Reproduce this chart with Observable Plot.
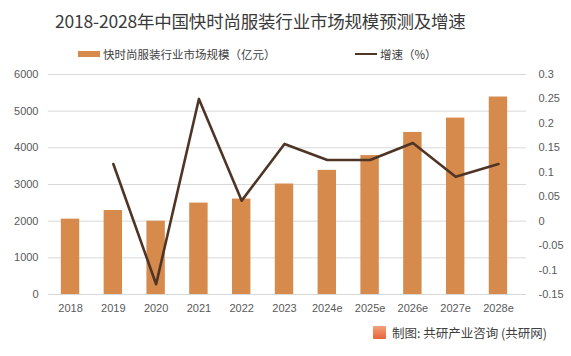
<!DOCTYPE html>
<html><head><meta charset="utf-8">
<script src="https://cdn.jsdelivr.net/npm/d3@7"></script>
<script src="https://cdn.jsdelivr.net/npm/@observablehq/plot@0.6"></script>
<style>
body{margin:0;background:#fff;font-family:"Noto Sans CJK SC","Noto Sans",sans-serif;}
#wrap{position:relative;width:571px;height:356px;overflow:hidden;}
#title{position:absolute;top:8px;left:55px;white-space:nowrap;font-size:17.5px;color:#3a3a3a;letter-spacing:-0.2px;}
.leg{position:absolute;top:46px;font-size:11.5px;color:#404040;display:flex;align-items:center;}
.sw{display:inline-block;width:22px;height:6px;background:#D68A4C;margin-right:3px;}
.ln{display:inline-block;width:22px;height:2.5px;background:#4F3526;margin-right:3px;}
#chart{position:absolute;top:64px;left:0;}
#cap{position:absolute;top:323px;left:373px;font-size:12.5px;color:#404040;display:flex;align-items:center;}
.logo{display:inline-block;width:13px;height:13px;background:linear-gradient(#f3a07a,#e8643a);margin-right:6px;border-radius:1px;}
</style></head>
<body><div id="wrap">
<div id="title">2018-2028年中国快时尚服装行业市场规模预测及增速</div>
<div class="leg" style="left:78px"><span class="sw"></span>快时尚服装行业市场规模（亿元）</div>
<div class="leg" style="left:355px"><span class="ln"></span>增速（%）</div>
<div id="chart"></div>
<div id="cap"><span class="logo"></span>制图: 共研产业咨询 (共研网)</div>
</div>
<script>
const years = ["2018","2019","2020","2021","2022","2023","2024e","2025e","2026e","2027e","2028e"];
const sizes = [2055,2290,2000,2493,2603,3014,3386,3789,4419,4811,5386];
const growthYears = ["2019","2020","2021","2022","2023","2024e","2025e","2026e","2027e","2028e"];
const growth = [0.117,-0.129,0.25,0.042,0.158,0.125,0.125,0.16,0.091,0.117];
const leftTicks = [0,1000,2000,3000,4000,5000,6000];
const rightTicks = [-0.15,-0.1,-0.05,0,0.05,0.1,0.15,0.2,0.25,0.3];

const rMin = -0.15, rMax = 0.3, lMax = 6000;
const toLeft = v => (v - rMin) / (rMax - rMin) * lMax;
const toRate = y => y / lMax * (rMax - rMin) + rMin;

const bars = years.map((y,i)=>({year:y, value:sizes[i]}));
const line = growthYears.map((y,i)=>({year:y, g:growth[i]}));

const chart = Plot.plot({
  width: 571, height: 256,
  marginLeft: 48, marginRight: 45, marginTop: 10, marginBottom: 26,
  style: {fontFamily: '"Liberation Sans","Noto Sans",sans-serif', fontSize: "11px", color: "#595959", background: "transparent"},
  x: {domain: years, range: [48, 520], round: false, paddingInner: 0.57, paddingOuter: 0.3, label: null},
  y: {domain: [0, lMax], label: null},
  marks: [
    Plot.gridY(leftTicks.slice(1), {stroke: "#d9d9d9", strokeOpacity: 1}),
    Plot.ruleY([0], {stroke: "#d9d9d9"}),
    Plot.barY(bars, {x: "year", y: "value", fill: "#D68A4C"}),
    Plot.line(line, {x: "year", y: d => toLeft(d.g), stroke: "#4F3526", strokeWidth: 2.6}),
    Plot.axisY(leftTicks, {anchor: "left", tickSize: 0, tickPadding: 10, label: null, tickFormat: d => String(d)}),
    Plot.axisY(rightTicks.map(toLeft), {anchor: "right", tickSize: 0, tickPadding: 12, textAnchor: "start", label: null,
      tickFormat: y => { const r = Math.round(toRate(y)*100)/100; return String(r); }}),
    Plot.axisX({tickSize: 0, tickPadding: 10, label: null})
  ]
});
document.getElementById("chart").appendChild(chart);
</script>
</body></html>
